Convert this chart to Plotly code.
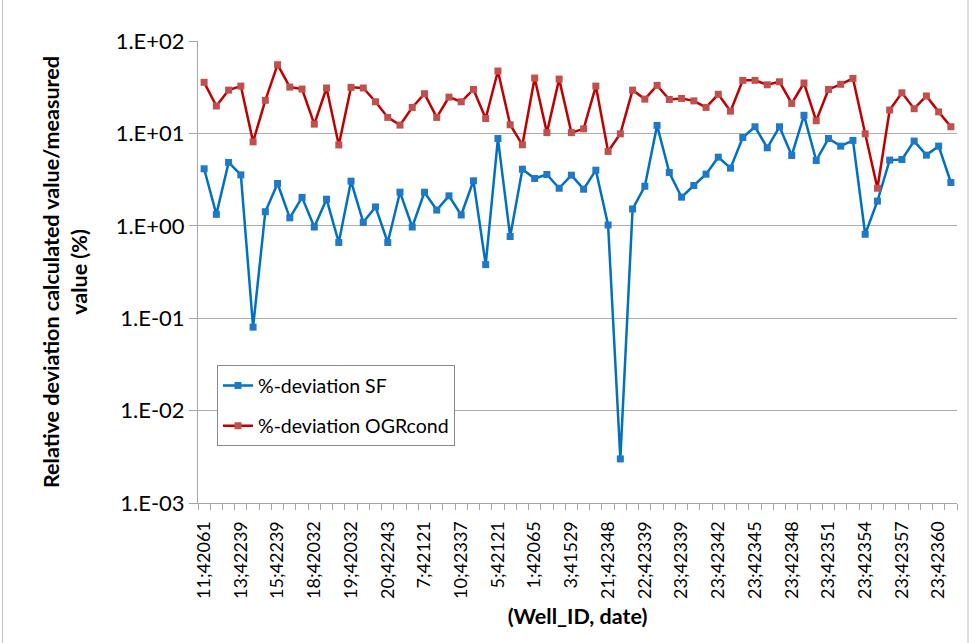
import plotly.graph_objects as go

# Tick labels shown on the category axis (every third sample: Well_ID;date)
tick_labels = [
    "11;42061", "13;42239", "15;42239", "18;42032", "19;42032", "20;42243",
    "7;42121", "10;42337", "5;42121", "1;42065", "3;41529", "21;42348",
    "22;42339", "23;42339", "23;42342", "23;42345", "23;42348", "23;42351",
    "23;42354", "23;42357", "23;42360",
]
label_step = 3

# %-deviation of the calculated SF from the measured value
dev_sf = [
    4.14, 1.33, 4.85, 3.56, 0.08, 1.42, 2.87, 1.22, 2.03, 0.97, 1.94, 0.66,
    3.04, 1.09, 1.60, 0.66, 2.31, 0.97, 2.31, 1.48, 2.11,
    1.31, 3.07, 0.38, 8.8, 0.766, 4.1, 3.25, 3.59, 2.55, 3.53, 2.49, 4.0,
    1.02, 0.003, 1.52, 2.68, 12.2, 3.78, 2.04, 2.73,
    3.62, 5.53, 4.21, 9.04, 11.8, 6.98, 11.8, 5.77, 15.7, 5.09, 8.8, 7.28,
    8.4, 0.81, 1.85, 5.14, 5.22, 8.26, 5.82, 7.28, 2.94,
]

# %-deviation of the calculated OGRcond from the measured value
dev_ogr = [
    35.7, 19.8, 29.4, 32.5, 8.1, 22.8, 55.4, 31.7, 30.2, 12.6, 31.0, 7.5,
    31.5, 31.0, 22.0, 14.9, 12.3, 19.1, 26.9, 14.9, 24.7,
    22.0, 29.9, 14.5, 47.3, 12.4, 7.53, 39.7, 10.2, 38.7, 10.2, 11.2, 32.5,
    6.38, 9.9, 29.4, 23.5, 33.1, 23.3, 23.9, 22.5,
    19.1, 26.5, 17.4, 37.5, 37.5, 33.6, 36.2, 21.1, 35.1, 13.7, 29.9, 34.0,
    39.4, 9.9, 2.55, 17.9, 27.5, 18.5, 25.4, 17.1, 11.8,
]

y_tick_vals = [1e-3, 1e-2, 1e-1, 1e0, 1e1, 1e2]
y_tick_text = ["1.E-03", "1.E-02", "1.E-01", "1.E+00", "1.E+01", "1.E+02"]

n = len(dev_sf)
x = list(range(n))
FONT = "Lato, Calibri, Arial, sans-serif"

fig = go.Figure()
fig.add_trace(go.Scatter(
    x=x, y=dev_sf, mode="lines+markers", name="%-deviation SF",
    legendgroup="sf",
    line=dict(color="#0070C0", width=2.5),
    marker=dict(symbol="square", size=7, color="#1F78C8"),
))
fig.add_trace(go.Scatter(
    x=x, y=dev_ogr, mode="lines+markers", name="%-deviation OGRcond",
    legendgroup="ogr",
    line=dict(color="#C00000", width=2.5),
    marker=dict(symbol="square", size=7, color="#C0504D"),
))

W, H = 973, 643
ml, mr, mt, mb = 198, 16, 41, 140
pw, ph = W - ml - mr, H - mt - mb

# light outer frame of the chart area
for px in (2.5, 968):
    fig.add_shape(type="line", xref="paper", yref="paper",
                  x0=(px - ml) / pw, x1=(px - ml) / pw,
                  y0=-(H - mt - ph) / ph - 0.05, y1=1 + mt / ph + 0.05,
                  line=dict(color="#BFBFBF", width=1))

fig.update_layout(
    width=W, height=H,
    margin=dict(l=ml, r=mr, t=mt, b=mb),
    paper_bgcolor="white", plot_bgcolor="white",
    font=dict(family=FONT, size=18, color="black"),
    showlegend=True,
    legend=dict(
        x=(217 - ml) / pw, y=(502.7 - 365) / ph, xanchor="left", yanchor="top",
        bordercolor="#8C8C8C", borderwidth=1, bgcolor="white",
        font=dict(family=FONT, size=19.5, color="black"),
        tracegroupgap=12, traceorder="grouped",
    ),
    xaxis=dict(
        range=[-0.5, n - 0.5],
        tickmode="array",
        tickvals=[i * label_step for i in range(len(tick_labels))],
        ticktext=tick_labels,
        tickangle=-90,
        ticks="",
        ticklabelstandoff=10,
        tickfont=dict(family=FONT, size=18),
        showgrid=False, zeroline=False,
        showline=True, linecolor="#A6A6A6", linewidth=1,
        minor=dict(tickvals=[i - 0.5 for i in range(n + 1)], ticks="outside",
                   ticklen=6, tickcolor="#A6A6A6", showgrid=False),
        title=dict(text="<b>(Well_ID, date)</b>", standoff=10,
                   font=dict(family=FONT, size=21.5)),
    ),
    yaxis=dict(
        type="log", range=[-3, 2],
        tickmode="array", tickvals=y_tick_vals, ticktext=y_tick_text,
        ticks="outside", ticklen=8, tickcolor="#A6A6A6",
        tickfont=dict(family=FONT, size=22),
        showgrid=True, gridcolor="#ADADAD", gridwidth=1,
        zeroline=False,
        showline=True, linecolor="#A6A6A6", linewidth=1,
        title=dict(text="<b>Relative deviation calculated value/measured<br>value (%)</b>",
                   standoff=22, font=dict(family=FONT, size=21.5)),
    ),
)

fig.write_html("out.html")
